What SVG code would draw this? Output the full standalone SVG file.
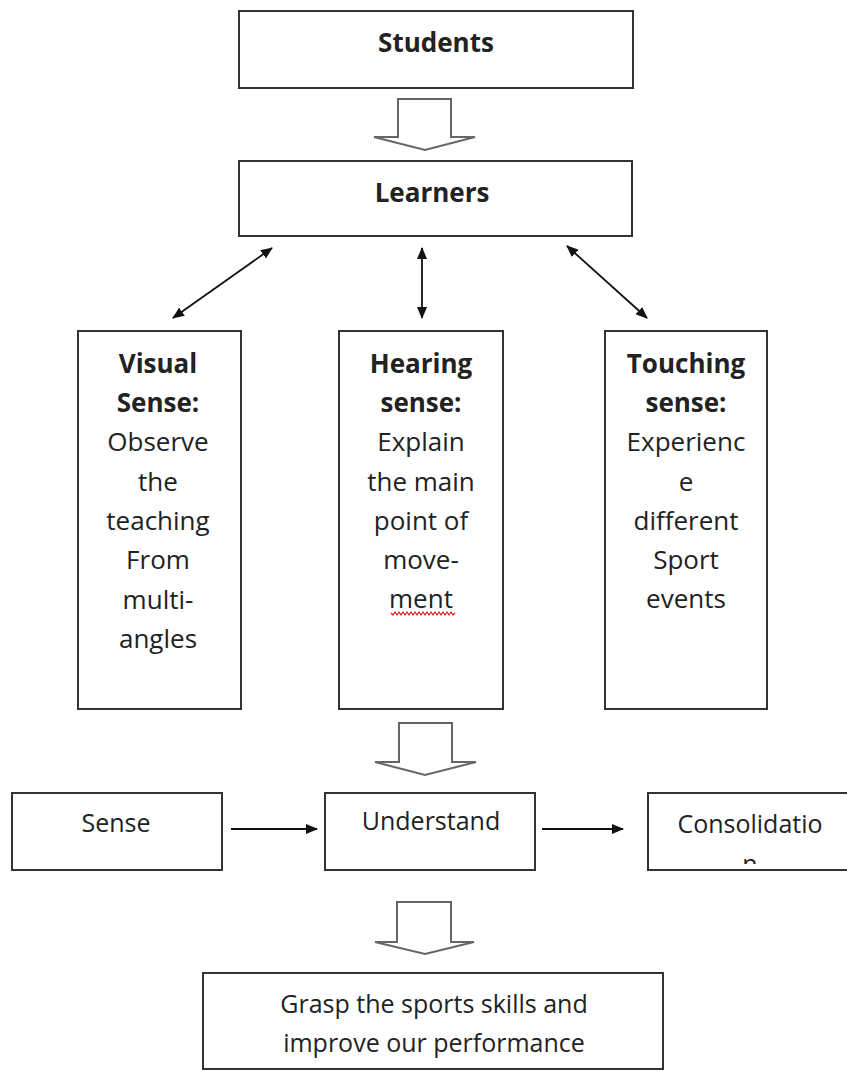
<svg xmlns="http://www.w3.org/2000/svg" width="847" height="1072" viewBox="0 0 847 1072">
<style>
.box{fill:#fff;stroke:#333;stroke-width:2}
.blk{fill:#fff;stroke:#666;stroke-width:2;stroke-linejoin:miter}
.t{font-family:"Open Sans","Noto Sans",sans-serif;font-size:26px;fill:#222;text-anchor:middle}
.b{font-weight:bold}
.s{font-size:25px}
.con{stroke:#111;stroke-width:1.8;fill:none}
</style>
<defs>
<marker id="ah" viewBox="0 0 12 10" refX="11" refY="5" markerWidth="12" markerHeight="10" markerUnits="userSpaceOnUse" orient="auto-start-reverse">
<path d="M0,0 L12,5 L0,10 Z" fill="#111"/>
</marker>
<clipPath id="cc"><rect x="649" y="794" width="200" height="70"/></clipPath>
</defs>
<rect width="847" height="1072" fill="#fff"/>
<g id="students">
<rect class="box" x="239" y="11" width="394" height="77"/>
<text class="t b" x="436" y="52">Students</text>
</g>
<g id="learners">
<rect class="box" x="239" y="161" width="393" height="75"/>
<text class="t b" x="432" y="202">Learners</text>
</g>
<g id="visual">
<rect class="box" x="78" y="331" width="163" height="378"/>
<text class="t" x="158"><tspan class="b" x="158" y="373">Visual</tspan><tspan class="b" x="158" y="412">Sense:</tspan><tspan x="158" y="451">Observe</tspan><tspan x="158" y="491">the</tspan><tspan x="158" y="530">teaching</tspan><tspan x="158" y="569">From</tspan><tspan x="158" y="609">multi-</tspan><tspan x="158" y="648">angles</tspan></text>
</g>
<g id="hearing">
<rect class="box" x="339" y="331" width="164" height="378"/>
<text class="t" x="421"><tspan class="b" x="421" y="373">Hearing</tspan><tspan class="b" x="421" y="412">sense:</tspan><tspan x="421" y="451">Explain</tspan><tspan x="421" y="491">the main</tspan><tspan x="421" y="530">point of</tspan><tspan x="421" y="569">move-</tspan><tspan x="421" y="608">ment</tspan></text>
<polyline points="391,613 393,615 395,612 397,615 399,612 401,615 403,612 405,615 407,612 409,615 411,612 413,615 415,612 417,615 419,612 421,615 423,612 425,615 427,612 429,615 431,612 433,615 435,612 437,615 439,612 441,615 443,612 445,615 447,612 449,615 451,612 453,615 455,613" fill="none" stroke="#d22" stroke-width="1.2"/>
</g>
<g id="touching">
<rect class="box" x="605" y="331" width="162" height="378"/>
<text class="t" x="686"><tspan class="b" x="686" y="373">Touching</tspan><tspan class="b" x="686" y="412">sense:</tspan><tspan x="686" y="451">Experienc</tspan><tspan x="686" y="491">e</tspan><tspan x="686" y="530">different</tspan><tspan x="686" y="569">Sport</tspan><tspan x="686" y="608">events</tspan></text>
</g>
<g id="sense">
<rect class="box" x="12" y="793" width="210" height="77"/>
<text class="t s" x="116" y="832">Sense</text>
</g>
<g id="understand">
<rect class="box" x="325" y="793" width="210" height="77"/>
<text class="t s" x="431" y="830">Understand</text>
</g>
<g id="consolidation">
<rect class="box" x="648" y="793" width="220" height="77"/>
<text class="t s" x="750" clip-path="url(#cc)"><tspan x="750" y="833">Consolidatio</tspan><tspan x="750" y="873">n</tspan></text>
</g>
<g id="grasp">
<rect class="box" x="203" y="973" width="460" height="96"/>
<text class="t s" x="434"><tspan x="434" y="1013">Grasp the sports skills and</tspan><tspan x="434" y="1052">improve our performance</tspan></text>
</g>
<g id="connectors">
<path class="blk" d="M398,99 H451 V137 H475 L425,150 L374,137 H398 Z"/>
<path class="blk" d="M399,723 H452 V762 H476 L425,775 L375,762 H399 Z"/>
<path class="blk" d="M397,902 H451 V942 H474 L425,954 L375,942 H397 Z"/>
<line class="con" x1="272" y1="248" x2="173" y2="318" marker-start="url(#ah)" marker-end="url(#ah)"/>
<line class="con" x1="422" y1="248" x2="422" y2="318" marker-start="url(#ah)" marker-end="url(#ah)"/>
<line class="con" x1="567" y1="246" x2="647" y2="318" marker-start="url(#ah)" marker-end="url(#ah)"/>
<line class="con" x1="231" y1="829" x2="317" y2="829" marker-end="url(#ah)"/>
<line class="con" x1="542" y1="829" x2="623" y2="829" marker-end="url(#ah)"/>
</g>
</svg>
